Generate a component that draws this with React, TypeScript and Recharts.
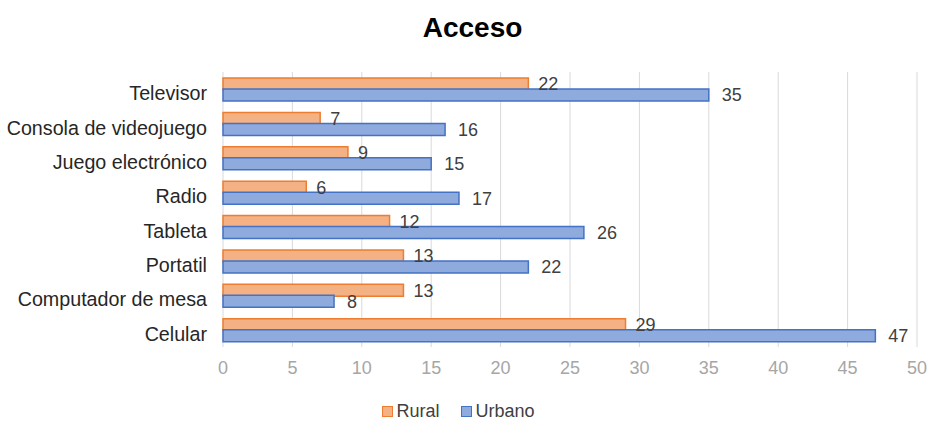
import React from 'react';
import { BarChart, Bar, XAxis, YAxis, CartesianGrid, Legend, LabelList } from 'recharts';

const categories = ['Televisor', 'Consola de videojuego', 'Juego electrónico', 'Radio', 'Tableta', 'Portatil', 'Computador de mesa', 'Celular'];
const rural = [22, 7, 9, 6, 12, 13, 13, 29];
const urbano = [35, 16, 15, 17, 26, 22, 8, 47];
const xTicks = [0, 5, 10, 15, 20, 25, 30, 35, 40, 45, 50];

const data = categories.map((c, i) => ({ name: c, Rural: rural[i], Urbano: urbano[i] }));

const FONT = '"Liberation Sans", Arial, sans-serif';

const renderLegend = () => (
  <div style={{ display: 'flex', justifyContent: 'center', alignItems: 'center', paddingTop: 24, fontFamily: FONT, fontSize: 18, color: '#404040' }}>
    <span style={{ display: 'inline-flex', alignItems: 'center', marginRight: 22 }}>
      <span style={{ width: 9, height: 9, background: '#F4B183', border: '1px solid #ED7D31', marginRight: 3, display: 'inline-block' }} />
      Rural
    </span>
    <span style={{ display: 'inline-flex', alignItems: 'center' }}>
      <span style={{ width: 9, height: 9, background: '#8FAADC', border: '1px solid #4472C4', marginRight: 3, display: 'inline-block' }} />
      Urbano
    </span>
  </div>
);

export default function App() {
  return (
    <div style={{ position: 'absolute', left: 0, top: 0, width: 931, height: 422, background: '#fff' }}>
      <div style={{ position: 'absolute', left: 0, top: 10, width: 945, textAlign: 'center', fontFamily: FONT, fontWeight: 'bold', fontSize: 28, color: '#000', lineHeight: '36px' }}>
        Acceso
      </div>
      <BarChart
        width={931}
        height={422}
        data={data}
        layout="vertical"
        margin={{ top: 72, right: 14, left: 0, bottom: 0 }}
        barSize={12}
        barGap={-1}
      >
        <CartesianGrid horizontal={false} vertical={true} stroke="#D9D9D9" />
        <XAxis
          type="number"
          domain={[0, 50]}
          ticks={xTicks}
          tickLine={false}
          axisLine={false}
          height={30}
          tickMargin={8}
          tick={{ fill: '#A6A6A6', fontSize: 18, fontFamily: FONT }}
          interval={0}
        />
        <YAxis
          type="category"
          dataKey="name"
          width={223}
          tickLine={false}
          axisLine={false}
          tickMargin={10}
          tick={{ fill: '#262626', fontSize: 19.7, fontFamily: FONT, dy: 4 }}
          interval={0}
        />
        <Legend verticalAlign="bottom" height={45} content={renderLegend} />
        <Bar dataKey="Rural" fill="#F4B183" stroke="#ED7D31" strokeWidth={1.5} isAnimationActive={false}>
          <LabelList dataKey="Rural" position="right" offset={10} style={{ fill: '#404040', fontSize: 18, fontFamily: FONT }} />
        </Bar>
        <Bar dataKey="Urbano" fill="#8FAADC" stroke="#4472C4" strokeWidth={1.5} isAnimationActive={false}>
          <LabelList dataKey="Urbano" position="right" offset={13} style={{ fill: '#404040', fontSize: 18, fontFamily: FONT }} />
        </Bar>
      </BarChart>
    </div>
  );
}
